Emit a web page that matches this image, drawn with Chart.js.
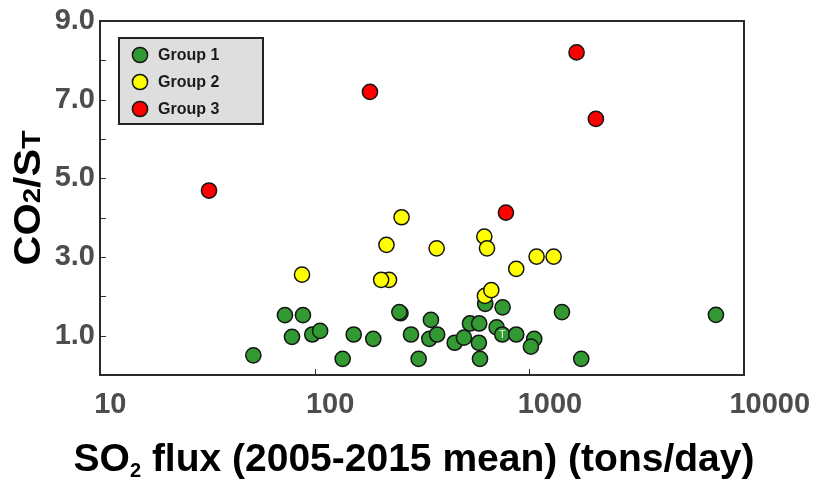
<!DOCTYPE html>
<html><head><meta charset="utf-8">
<script src="https://cdn.jsdelivr.net/npm/chart.js@4"></script>
<style>html,body{margin:0;padding:0;background:#fff}#wrap{width:813px;height:479px}</style>
</head><body><div id="wrap"><canvas id="c"></canvas></div>
<script>
const groupLabels = ['Group 1', 'Group 2', 'Group 3'];
const group1Flux  = [51.8, 72.7, 78.4, 88.2, 97.5, 106, 135, 152, 187.5, 251, 248, 281, 305, 342, 348, 372, 449, 496, 529, 582, 584, 589, 623, 704, 748, 751, 869, 1054, 1017, 1419, 1745, 7400];
const group1Ratio = [0.50, 1.52, 0.97, 1.52, 1.03, 1.12, 0.41, 1.03, 0.92, 1.57, 1.60, 1.03, 0.41, 0.92, 1.40, 1.03, 0.82, 0.95, 1.31, 0.82, 1.31, 0.41, 1.81, 1.21, 1.03, 1.72, 1.03, 0.92, 0.72, 1.60, 0.41, 1.53];
const group2Flux  = [87.3, 222, 204, 216, 254, 370, 621, 665, 617, 635, 869, 1081, 1298];
const group2Ratio = [2.55, 2.42, 2.42, 3.31, 4.01, 3.22, 2.01, 2.16, 3.52, 3.22, 2.70, 3.01, 3.01];
const group3Flux  = [32.2, 181, 778, 1660, 2042];
const group3Ratio = [4.69, 7.20, 4.13, 8.20, 6.51];
const xTickValues = [10, 100, 1000, 10000];
const yTickValues = [1, 3, 5, 7, 9];
const yMinorTicks = [1, 2, 3, 4, 5, 6, 7, 8];
const xMinorTicks = [100, 1000];
const markedPoint = { dataset: 0, index: 24, text: 'T' };
const xTitleParts = [['SO', 1], ['2', 0.5], [' flux (2005-2015 mean) (tons/day)', 1]];
const yTitleParts = [['CO', 1], ['2', 0.68], ['/S', 1], ['T', 0.72]];

const colors = ['#339933', '#ffff00', '#ff0000'];
const zip = (xs, ys) => xs.map((x, i) => ({ x: x, y: ys[i] }));
const allX = [group1Flux, group2Flux, group3Flux];
const allY = [group1Ratio, group2Ratio, group3Ratio];

const datasets = groupLabels.map((lab, i) => ({
  label: lab,
  data: zip(allX[i], allY[i]),
  backgroundColor: colors[i],
  borderColor: '#151515',
  borderWidth: 1.5,
  pointRadius: 7.6,
  pointHoverRadius: 7.6,
  order: 3 - i
}));

const FAM = "'Liberation Sans', Arial, Helvetica, sans-serif";
const tickFont = { family: FAM, size: 29, weight: 'bold' };

const decor = {
  id: 'decor',
  afterDraw(chart) {
    const ctx = chart.ctx, a = chart.chartArea;
    const xs = chart.scales.x, ys = chart.scales.y;
    ctx.save();
    // inward ticks
    ctx.strokeStyle = '#333';
    ctx.lineWidth = 1;
    ctx.beginPath();
    yMinorTicks.forEach(v => {
      const py = Math.round(ys.getPixelForValue(v)) + 0.5;
      ctx.moveTo(a.left, py); ctx.lineTo(a.left + 6, py);
    });
    xMinorTicks.forEach(v => {
      const px = Math.round(xs.getPixelForValue(v)) + 0.5;
      ctx.moveTo(px, a.bottom); ctx.lineTo(px, a.bottom - 6);
    });
    ctx.stroke();
    // frame
    ctx.strokeStyle = '#2a2a2a';
    ctx.lineWidth = 2;
    ctx.strokeRect(a.left, a.top, a.right - a.left, a.bottom - a.top);

    // x tick labels (slightly left-shifted like the original)
    ctx.fillStyle = '#4d4d4d';
    ctx.font = 'bold 29px ' + FAM;
    ctx.textAlign = 'left'; ctx.textBaseline = 'top';
    xs.ticks.forEach(t => {
      const lab = String(t.value);
      const w = ctx.measureText(lab).width;
      ctx.fillText(lab, xs.getPixelForValue(t.value) - 0.18 * w, a.bottom + 15);
    });

    // marked point
    const meta = chart.getDatasetMeta(markedPoint.dataset);
    const el = meta.data[markedPoint.index];
    if (el) {
      ctx.fillStyle = '#e8f5e8';
      ctx.font = '11px ' + FAM;
      ctx.textAlign = 'center'; ctx.textBaseline = 'middle';
      ctx.fillText(markedPoint.text, el.x, el.y + 0.5);
    }

    // legend
    const lx = 119, ly = 38, lw = 144, lh = 86;
    ctx.fillStyle = '#dedede';
    ctx.fillRect(lx, ly, lw, lh);
    ctx.strokeStyle = '#222';
    ctx.lineWidth = 2;
    ctx.strokeRect(lx, ly, lw, lh);
    chart.data.datasets.forEach((ds, i) => {
      const cy = ly + 17 + i * 27;
      ctx.beginPath();
      ctx.arc(lx + 21, cy, 7.6, 0, Math.PI * 2);
      ctx.fillStyle = ds.backgroundColor;
      ctx.fill();
      ctx.lineWidth = 1.5;
      ctx.strokeStyle = '#151515';
      ctx.stroke();
      ctx.fillStyle = '#1a1a1a';
      ctx.font = 'bold 16px ' + FAM;
      ctx.textAlign = 'left'; ctx.textBaseline = 'middle';
      ctx.fillText(ds.label, lx + 39, cy + 1);
    });

    // y title (rotated)
    const ySize = 36, yStretch = 1.15;
    ctx.save();
    ctx.translate(27 + 0.36 * ySize, (a.top + a.bottom) / 2);
    ctx.rotate(-Math.PI / 2);
    ctx.scale(yStretch, 1);
    ctx.fillStyle = '#000';
    ctx.textAlign = 'left'; ctx.textBaseline = 'alphabetic';
    let total = 0;
    yTitleParts.forEach(p => { ctx.font = 'bold ' + Math.round(ySize * p[1]) + 'px ' + FAM; total += ctx.measureText(p[0]).width; });
    let u = -total / 2;
    yTitleParts.forEach(p => { ctx.font = 'bold ' + Math.round(ySize * p[1]) + 'px ' + FAM; ctx.fillText(p[0], u, 0); u += ctx.measureText(p[0]).width; });
    ctx.restore();

    // x title
    const xSize = 39;
    ctx.fillStyle = '#000';
    ctx.textAlign = 'left'; ctx.textBaseline = 'alphabetic';
    total = 0;
    xTitleParts.forEach(p => { ctx.font = 'bold ' + Math.round(xSize * p[1]) + 'px ' + FAM; total += ctx.measureText(p[0]).width; });
    u = 414 - total / 2;
    xTitleParts.forEach(p => { ctx.font = 'bold ' + Math.round(xSize * p[1]) + 'px ' + FAM; ctx.fillText(p[0], u, 471 + (p[1] < 1 ? 6 : 0)); u += ctx.measureText(p[0]).width; });
    ctx.restore();
  }
};

new Chart(document.getElementById('c'), {
  type: 'scatter',
  data: { datasets: datasets },
  options: {
    responsive: true,
    maintainAspectRatio: false,
    devicePixelRatio: 1,
    animation: false,
    layout: { padding: { left: 0, right: 69, top: 21, bottom: 0 } },
    plugins: { legend: { display: false }, tooltip: { enabled: false } },
    scales: {
      x: {
        type: 'logarithmic', min: 10, max: 10000, position: 'bottom',
        afterBuildTicks: s => { s.ticks = xTickValues.map(v => ({ value: v })); },
        afterFit: s => { s.height = 104; s.paddingLeft = 0; s.paddingRight = 0; },
        ticks: { display: false, callback: v => String(v) },
        grid: { display: false, drawTicks: false },
        border: { display: false }
      },
      y: {
        type: 'linear', min: 0, max: 9,
        afterBuildTicks: s => { s.ticks = yTickValues.map(v => ({ value: v })); },
        afterFit: s => { s.width = 100; s.paddingTop = 0; s.paddingBottom = 0; },
        ticks: { callback: v => Number(v).toFixed(1), font: tickFont, color: '#4d4d4d', padding: 5 },
        grid: { display: false, drawTicks: false },
        border: { display: false }
      }
    }
  },
  plugins: [decor]
});
</script>
</body></html>
